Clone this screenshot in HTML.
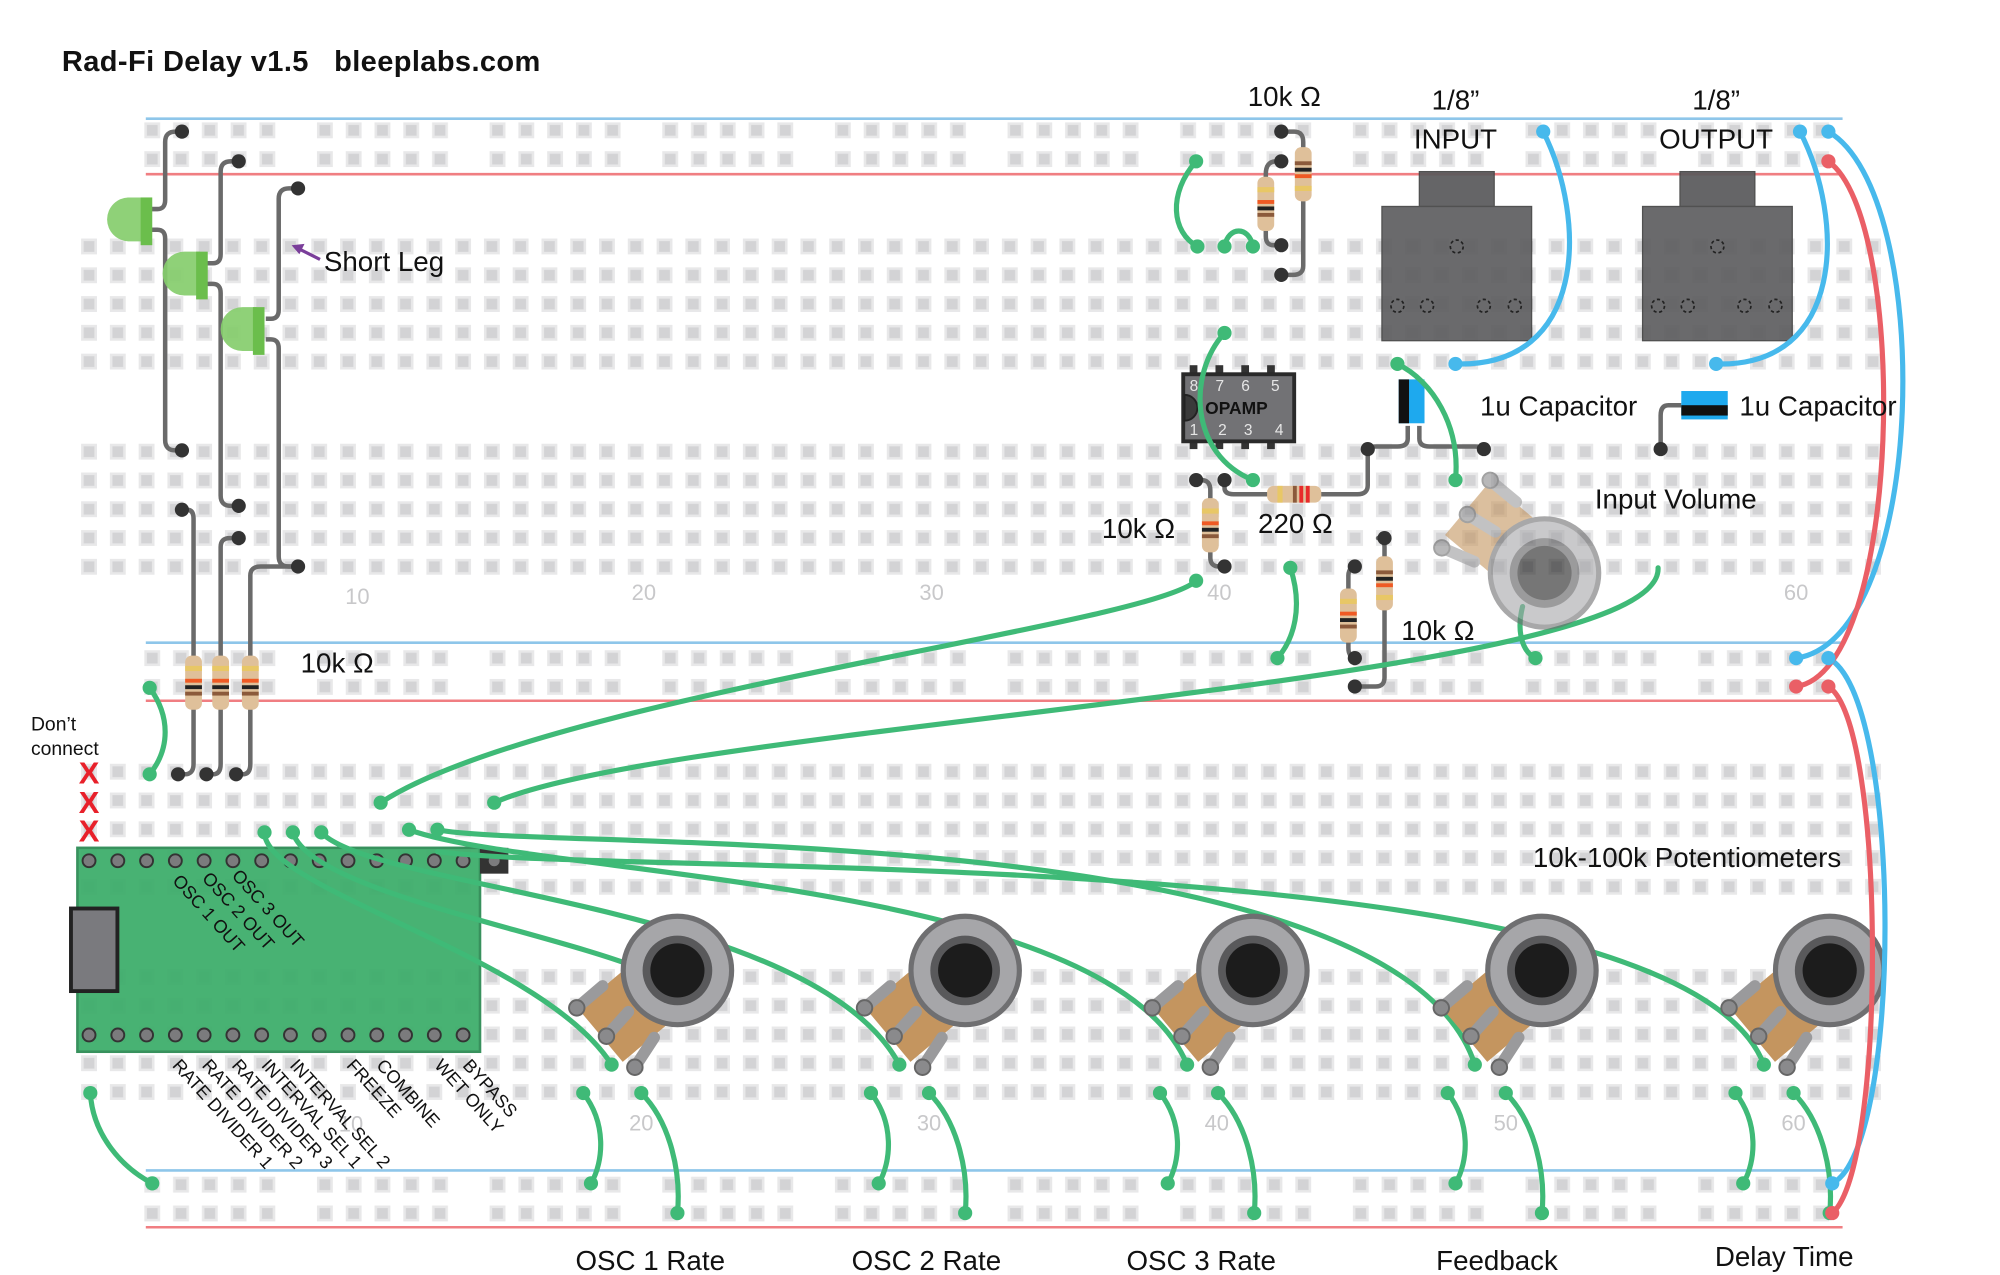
<!DOCTYPE html>
<html><head><meta charset="utf-8"><style>
html,body{margin:0;padding:0;background:#fff}
svg{display:block}
text{font-family:"Liberation Sans",sans-serif;fill:#111}
</style></head><body>
<svg width="2000" height="1275" viewBox="0 0 1550 988" preserveAspectRatio="none" xmlns="http://www.w3.org/2000/svg">
<defs>
<pattern id="g" x="0" y="0" width="22.3" height="22.3" patternUnits="userSpaceOnUse">
<rect x="5" y="5" width="12.3" height="12.3" fill="#e8e8e9"/><rect x="7" y="7" width="8.3" height="8.3" fill="#d3d3d5"/>
</pattern>
<pattern id="r" x="0" y="0" width="133.8" height="22.3" patternUnits="userSpaceOnUse">
<g fill="#e8e8e9"><rect x="5" y="5" width="12.3" height="12.3"/><rect x="27.3" y="5" width="12.3" height="12.3"/><rect x="49.6" y="5" width="12.3" height="12.3"/><rect x="71.9" y="5" width="12.3" height="12.3"/><rect x="94.2" y="5" width="12.3" height="12.3"/></g>
<g fill="#d3d3d5"><rect x="7" y="7" width="8.3" height="8.3"/><rect x="29.3" y="7" width="8.3" height="8.3"/><rect x="51.6" y="7" width="8.3" height="8.3"/><rect x="73.9" y="7" width="8.3" height="8.3"/><rect x="96.2" y="7" width="8.3" height="8.3"/></g>
</pattern>
<g id="pot">
<rect x="-78" y="-27" width="80" height="54" fill="#c4955f" transform="rotate(-40)"/>
<g stroke="#9a9a9c" stroke-width="9" stroke-linecap="round">
<line x1="-58" y1="12" x2="-78" y2="29"/><line x1="-38" y1="32" x2="-55" y2="51"/><line x1="-18" y1="52" x2="-33" y2="75"/></g>
<g fill="#8a8a8c" stroke="#666" stroke-width="1.5"><circle cx="-78" cy="29" r="6"/><circle cx="-55" cy="51" r="6"/><circle cx="-33" cy="75" r="6"/></g>
<circle r="42" fill="#a6a6a9" stroke="#6f6f71" stroke-width="4"/>
<circle r="27" fill="#59595b"/><circle r="21" fill="#1c1c1c"/>
</g>
</defs>

<text x="48" y="55" font-size="22.5" font-weight="bold" letter-spacing=".3">Rad-Fi Delay v1.5 &#160; bleeplabs.com</text>

<g stroke-width="2">
<line x1="113" y1="92" x2="1428" y2="92" stroke="#8ec6ea"/><line x1="113" y1="135" x2="1428" y2="135" stroke="#f07e82"/>
<line x1="113" y1="498" x2="1428" y2="498" stroke="#8ec6ea"/><line x1="113" y1="543" x2="1428" y2="543" stroke="#f07e82"/>
<line x1="113" y1="907" x2="1428" y2="907" stroke="#8ec6ea"/><line x1="113" y1="951" x2="1428" y2="951" stroke="#f07e82"/>
</g>
<rect transform="translate(106.85,89.85)" width="1315" height="44.6" fill="url(#r)"/>
<rect transform="translate(106.85,498.85)" width="1315" height="44.6" fill="url(#r)"/>
<rect transform="translate(106.85,906.85)" width="1315" height="44.6" fill="url(#r)"/>
<rect transform="translate(57.85,179.85)" width="1404.9" height="111.5" fill="url(#g)"/>
<rect transform="translate(57.85,338.85)" width="1404.9" height="111.5" fill="url(#g)"/>
<rect transform="translate(57.85,586.85)" width="1404.9" height="111.5" fill="url(#g)"/>
<rect transform="translate(57.85,745.85)" width="1404.9" height="111.5" fill="url(#g)"/>

<g font-size="17" text-anchor="middle">
<text x="277" y="468" style="fill:#c8c8ca">10</text><text x="499" y="465" style="fill:#c8c8ca">20</text><text x="722" y="465" style="fill:#c8c8ca">30</text><text x="945" y="465" style="fill:#c8c8ca">40</text><text x="1392" y="465" style="fill:#c8c8ca">60</text>
<text x="272" y="877" style="fill:#c8c8ca">10</text><text x="497" y="876" style="fill:#c8c8ca">20</text><text x="720" y="876" style="fill:#c8c8ca">30</text><text x="943" y="876" style="fill:#c8c8ca">40</text><text x="1167" y="876" style="fill:#c8c8ca">50</text><text x="1390" y="876" style="fill:#c8c8ca">60</text>
</g>

<g fill="none" stroke="#6a6a6a" stroke-width="3.5" stroke-linejoin="round">
<path d="M116,162 H122 Q128,162 128,155 V110 Q128,102 136,102 H141"/>
<path d="M116,178 H122 Q128,178 128,185 V341 Q128,349 136,349 H141"/>
<path d="M160,204 H165 Q171,204 171,197 V133 Q171,125 179,125 H185"/>
<path d="M160,220 H165 Q171,220 171,227 V384 Q171,392 179,392 H185"/>
<path d="M206,247 H210 Q216,247 216,240 V154 Q216,146 224,146 H231"/>
<path d="M206,263 H210 Q216,263 216,270 V431 Q216,439 224,439 H231"/>
<path d="M141,395 H145 Q150,395 150,402 V592 Q150,600 143,600 H138"/>
<path d="M185,417 H178 Q171,417 171,424 V592 Q171,600 165,600 H160"/>
<path d="M231,439 H202 Q194,439 194,446 V592 Q194,600 188,600 H183"/>
<path d="M993,102 H1003 Q1010,102 1010,110 V206 Q1010,213 1002,213 H993"/>
<path d="M993,190 H987 Q981,190 981,183 V135 Q981,125 989,125 H993"/>
<path d="M927,372 H931 Q938,372 938,380 V432 Q938,439 945,439 H949"/>
<path d="M949,372 V378 Q949,383 956,383 H1052 Q1060,383 1060,376 V348"/>
<path d="M1073,417 H1068 Q1073,417 1073,424 V525 Q1073,532 1066,532 H1050"/>
<path d="M1050,439 H1053 Q1045,439 1045,446 V502 Q1045,510 1052,510 H1050"/>
<path d="M1091,330 V340 Q1091,346 1083,346 H1066 Q1060,346 1060,350"/>
<path d="M1100,330 V340 Q1100,346 1108,346 H1143 Q1150,346 1150,350"/>
<path d="M1303,314 H1293 Q1287,314 1287,322 V348"/>
</g>
<g fill="#333">
<circle cx="141" cy="102" r="5.5"/><circle cx="141" cy="349" r="5.5"/><circle cx="185" cy="125" r="5.5"/><circle cx="185" cy="392" r="5.5"/><circle cx="231" cy="146" r="5.5"/><circle cx="231" cy="439" r="5.5"/>
<circle cx="141" cy="395" r="5.5"/><circle cx="185" cy="417" r="5.5"/>
<circle cx="138" cy="600" r="5.5"/><circle cx="160" cy="600" r="5.5"/><circle cx="183" cy="600" r="5.5"/>
<circle cx="993" cy="102" r="5.5"/><circle cx="993" cy="213" r="5.5"/><circle cx="993" cy="125" r="5.5"/><circle cx="993" cy="190" r="5.5"/>
<circle cx="927" cy="372" r="5.5"/><circle cx="949" cy="439" r="5.5"/><circle cx="949" cy="372" r="5.5"/><circle cx="1060" cy="348" r="5.5"/>
<circle cx="1073" cy="417" r="5.5"/><circle cx="1050" cy="532" r="5.5"/><circle cx="1050" cy="439" r="5.5"/><circle cx="1050" cy="510" r="5.5"/>
<circle cx="1150" cy="348" r="5.5"/><circle cx="1287" cy="348" r="5.5"/>
</g>

<g>
<path d="M112,153 H100 A17,17 0 0 0 100,187 H112 Z" fill="#86cd6c" opacity=".92"/><rect x="109" y="153" width="9" height="37" fill="#6bbe4c"/>
<path d="M155,195 H143 A17,17 0 0 0 143,229 H155 Z" fill="#86cd6c" opacity=".92"/><rect x="152" y="195" width="9" height="37" fill="#6bbe4c"/>
<path d="M199,238 H188 A17,17 0 0 0 188,272 H199 Z" fill="#86cd6c" opacity=".92"/><rect x="196" y="238" width="9" height="37" fill="#6bbe4c"/>
</g>
<text x="251" y="210" font-size="21.5">Short Leg</text>
<line x1="248" y1="201" x2="232" y2="193" stroke="#7a3e9a" stroke-width="2.5"/><path d="M226,190 L236,189 L232,197 Z" fill="#7a3e9a"/>

<g>
<g transform="translate(150,529)"><rect x="-6.5" y="-21" width="13" height="42" rx="5" fill="#dfc09a"/><rect x="-6.5" y="-13" width="13" height="4" fill="#e8c766"/><rect x="-6.5" y="-3" width="13" height="3" fill="#ef5a24"/><rect x="-6.5" y="2" width="13" height="3" fill="#222"/><rect x="-6.5" y="7" width="13" height="3" fill="#8b5a3b"/></g>
<g transform="translate(171,529)"><rect x="-6.5" y="-21" width="13" height="42" rx="5" fill="#dfc09a"/><rect x="-6.5" y="-13" width="13" height="4" fill="#e8c766"/><rect x="-6.5" y="-3" width="13" height="3" fill="#ef5a24"/><rect x="-6.5" y="2" width="13" height="3" fill="#222"/><rect x="-6.5" y="7" width="13" height="3" fill="#8b5a3b"/></g>
<g transform="translate(194,529)"><rect x="-6.5" y="-21" width="13" height="42" rx="5" fill="#dfc09a"/><rect x="-6.5" y="-13" width="13" height="4" fill="#e8c766"/><rect x="-6.5" y="-3" width="13" height="3" fill="#ef5a24"/><rect x="-6.5" y="2" width="13" height="3" fill="#222"/><rect x="-6.5" y="7" width="13" height="3" fill="#8b5a3b"/></g>
<g transform="translate(1010,135) rotate(180)"><rect x="-6.5" y="-21" width="13" height="42" rx="5" fill="#dfc09a"/><rect x="-6.5" y="-13" width="13" height="4" fill="#e8c766"/><rect x="-6.5" y="-3" width="13" height="3" fill="#ef5a24"/><rect x="-6.5" y="2" width="13" height="3" fill="#222"/><rect x="-6.5" y="7" width="13" height="3" fill="#8b5a3b"/></g>
<g transform="translate(981,158)"><rect x="-6.5" y="-21" width="13" height="42" rx="5" fill="#dfc09a"/><rect x="-6.5" y="-13" width="13" height="4" fill="#e8c766"/><rect x="-6.5" y="-3" width="13" height="3" fill="#ef5a24"/><rect x="-6.5" y="2" width="13" height="3" fill="#222"/><rect x="-6.5" y="7" width="13" height="3" fill="#8b5a3b"/></g>
<g transform="translate(938,407)"><rect x="-6.5" y="-21" width="13" height="42" rx="5" fill="#dfc09a"/><rect x="-6.5" y="-13" width="13" height="4" fill="#e8c766"/><rect x="-6.5" y="-3" width="13" height="3" fill="#ef5a24"/><rect x="-6.5" y="2" width="13" height="3" fill="#222"/><rect x="-6.5" y="7" width="13" height="3" fill="#8b5a3b"/></g>
<g transform="translate(1073,452) rotate(180)"><rect x="-6.5" y="-21" width="13" height="42" rx="5" fill="#dfc09a"/><rect x="-6.5" y="-13" width="13" height="4" fill="#e8c766"/><rect x="-6.5" y="-3" width="13" height="3" fill="#ef5a24"/><rect x="-6.5" y="2" width="13" height="3" fill="#222"/><rect x="-6.5" y="7" width="13" height="3" fill="#8b5a3b"/></g>
<g transform="translate(1045,477)"><rect x="-6.5" y="-21" width="13" height="42" rx="5" fill="#dfc09a"/><rect x="-6.5" y="-13" width="13" height="4" fill="#e8c766"/><rect x="-6.5" y="-3" width="13" height="3" fill="#ef5a24"/><rect x="-6.5" y="2" width="13" height="3" fill="#222"/><rect x="-6.5" y="7" width="13" height="3" fill="#8b5a3b"/></g>
<g transform="translate(1003,383) rotate(-90)"><rect x="-6.5" y="-21" width="13" height="42" rx="5" fill="#dfc09a"/><rect x="-6.5" y="-13" width="13" height="4" fill="#e8c766"/><rect x="-6.5" y="-1" width="13" height="3" fill="#8b5a3b"/><rect x="-6.5" y="4" width="13" height="3" fill="#e82a2a"/><rect x="-6.5" y="9" width="13" height="3" fill="#e82a2a"/></g>
</g>

<g>
<g fill="#333"><rect x="922" y="283" width="6" height="8"/><rect x="942" y="283" width="6" height="8"/><rect x="962" y="283" width="6" height="8"/><rect x="982" y="283" width="6" height="8"/><rect x="922" y="340" width="6" height="8"/><rect x="942" y="340" width="6" height="8"/><rect x="962" y="340" width="6" height="8"/><rect x="982" y="340" width="6" height="8"/></g>
<rect x="917" y="290" width="86" height="52" fill="#727275" stroke="#2a2a2a" stroke-width="3"/>
<path d="M918,306 A10,10 0 0 1 918,326 Z" fill="#3a3a3a" stroke="#222" stroke-width="1.5"/>
<g font-size="12"><text x="922" y="303" style="fill:#e6e6e6">8</text><text x="942" y="303" style="fill:#e6e6e6">7</text><text x="962" y="303" style="fill:#e6e6e6">6</text><text x="985" y="303" style="fill:#e6e6e6">5</text><text x="922" y="337" style="fill:#e6e6e6">1</text><text x="944" y="337" style="fill:#e6e6e6">2</text><text x="964" y="337" style="fill:#e6e6e6">3</text><text x="988" y="337" style="fill:#e6e6e6">4</text></g>
<text x="934" y="321" font-size="13.5" font-weight="bold">OPAMP</text>
</g>

<g opacity=".93">
<rect x="1100" y="133" width="58" height="27" fill="#5a5a5c" stroke="#444"/><rect x="1071" y="160" width="116" height="104" fill="#5f5f61" stroke="#444"/>
<rect x="1302" y="133" width="58" height="27" fill="#5a5a5c" stroke="#444"/><rect x="1273" y="160" width="116" height="104" fill="#5f5f61" stroke="#444"/>
</g>
<g fill="none" stroke="#222" stroke-width="1.3" stroke-dasharray="2.5 2">
<circle cx="1129" cy="191" r="5"/><circle cx="1083" cy="237" r="5"/><circle cx="1106" cy="237" r="5"/><circle cx="1150" cy="237" r="5"/><circle cx="1174" cy="237" r="5"/>
<circle cx="1331" cy="191" r="5"/><circle cx="1285" cy="237" r="5"/><circle cx="1308" cy="237" r="5"/><circle cx="1352" cy="237" r="5"/><circle cx="1376" cy="237" r="5"/>
</g>

<rect x="1084" y="294" width="20" height="34" fill="#1ea9ee"/><rect x="1084" y="294" width="8" height="34" fill="#111"/>
<rect x="1303" y="303" width="36" height="22" fill="#1ea9ee"/><rect x="1303" y="314" width="36" height="8" fill="#111"/>

<g>
<rect x="60" y="657" width="312" height="158" fill="#3fae6c" stroke="#2e8c55" stroke-width="2" opacity=".95"/>
<rect x="372" y="657" width="22" height="20" fill="#333"/>
<rect x="55" y="704" width="36" height="64" fill="#7a7a7e" stroke="#222" stroke-width="3"/>
<g fill="#7b7b7d" stroke="#333" stroke-width="1.5">
<circle cx="69" cy="667" r="5"/><circle cx="91.3" cy="667" r="5"/><circle cx="113.6" cy="667" r="5"/><circle cx="135.9" cy="667" r="5"/><circle cx="158.2" cy="667" r="5"/><circle cx="180.5" cy="667" r="5"/><circle cx="202.8" cy="667" r="5"/><circle cx="225.1" cy="667" r="5"/><circle cx="247.4" cy="667" r="5"/><circle cx="269.7" cy="667" r="5"/><circle cx="292" cy="667" r="5"/><circle cx="314.3" cy="667" r="5"/><circle cx="336.6" cy="667" r="5"/><circle cx="358.9" cy="667" r="5"/><circle cx="383" cy="667" r="5"/>
<circle cx="69" cy="802" r="5"/><circle cx="91.3" cy="802" r="5"/><circle cx="113.6" cy="802" r="5"/><circle cx="135.9" cy="802" r="5"/><circle cx="158.2" cy="802" r="5"/><circle cx="180.5" cy="802" r="5"/><circle cx="202.8" cy="802" r="5"/><circle cx="225.1" cy="802" r="5"/><circle cx="247.4" cy="802" r="5"/><circle cx="269.7" cy="802" r="5"/><circle cx="292" cy="802" r="5"/><circle cx="314.3" cy="802" r="5"/><circle cx="336.6" cy="802" r="5"/><circle cx="358.9" cy="802" r="5"/>
</g>
</g>
<g font-size="14">
<text transform="translate(133,683) rotate(48)">OSC 1 OUT</text>
<text transform="translate(156,681) rotate(48)">OSC 2 OUT</text>
<text transform="translate(179,679) rotate(48)">OSC 3 OUT</text>
<text transform="translate(133,826) rotate(48)">RATE DIVIDER 1</text>
<text transform="translate(156,826) rotate(48)">RATE DIVIDER 2</text>
<text transform="translate(179,826) rotate(48)">RATE DIVIDER 3</text>
<text transform="translate(202,826) rotate(48)">INTERVAL SEL 1</text>
<text transform="translate(224,826) rotate(48)">INTERVAL SEL 2</text>
<text transform="translate(268,826) rotate(48)">FREEZE</text>
<text transform="translate(291,826) rotate(48)">COMBINE</text>
<text transform="translate(336,826) rotate(48)">WET ONLY</text>
<text transform="translate(358,826) rotate(48)">BYPASS</text>
</g>
<text x="24" y="566" font-size="15">Don’t</text><text x="24" y="585" font-size="15">connect</text>
<g font-size="24" font-weight="bold" text-anchor="middle"><text x="69" y="607" style="fill:#e8202a">X</text><text x="69" y="630" style="fill:#e8202a">X</text><text x="69" y="652" style="fill:#e8202a">X</text></g>

<g fill="none" stroke="#3fba77" stroke-width="4" stroke-linecap="round">
<path d="M116,533 C132,555 132,580 116,600"/>
<path d="M70,847 C72,880 95,905 118,917"/>
<path d="M927,125 C905,150 908,180 928,191"/>
<path d="M949,191 C952,175 968,175 971,191"/>
<path d="M949,258 C920,290 922,352 971,372"/>
<path d="M927,450 C890,485 420,540 295,622"/>
<path d="M1000,440 C1010,470 1003,495 990,510"/>
<path d="M1285,440 C1290,530 520,560 383,622"/>
<path d="M1083,282 C1110,295 1132,330 1128,372"/>
<path d="M1180,470 C1175,490 1180,505 1190,510"/>
<path d="M205,645 C205,690 420,740 474,825"/>
<path d="M227,645 C240,690 420,720 500,752"/>
<path d="M249,645 C290,690 630,700 697,825"/>
<path d="M317,643 C420,680 860,680 920,825"/>
<path d="M339,643 C420,660 1080,630 1143,825"/>
<path d="M339,660 C500,680 1300,650 1367,825"/>
<path d="M452,847 C470,870 468,900 458,917"/><path d="M497,847 C520,870 528,910 525,940"/>
<path d="M675,847 C693,870 691,900 681,917"/><path d="M720,847 C743,870 751,910 748,940"/>
<path d="M899,847 C917,870 915,900 905,917"/><path d="M944,847 C967,870 975,910 972,940"/>
<path d="M1122,847 C1140,870 1138,900 1128,917"/><path d="M1167,847 C1190,870 1198,910 1195,940"/>
<path d="M1345,847 C1363,870 1361,900 1351,917"/><path d="M1390,847 C1413,870 1421,910 1418,940"/>
</g>
<g fill="#3fba77">
<circle cx="116" cy="533" r="5.5"/><circle cx="116" cy="600" r="5.5"/><circle cx="70" cy="847" r="5.5"/><circle cx="118" cy="917" r="5.5"/>
<circle cx="927" cy="125" r="5.5"/><circle cx="928" cy="191" r="5.5"/><circle cx="949" cy="191" r="5.5"/><circle cx="971" cy="191" r="5.5"/>
<circle cx="949" cy="258" r="5.5"/><circle cx="971" cy="372" r="5.5"/><circle cx="927" cy="450" r="5.5"/><circle cx="295" cy="622" r="5.5"/>
<circle cx="1000" cy="440" r="5.5"/><circle cx="990" cy="510" r="5.5"/><circle cx="383" cy="622" r="5.5"/>
<circle cx="1083" cy="282" r="5.5"/><circle cx="1128" cy="372" r="5.5"/><circle cx="1190" cy="510" r="5.5"/>
<circle cx="205" cy="645" r="5.5"/><circle cx="227" cy="645" r="5.5"/><circle cx="249" cy="645" r="5.5"/><circle cx="317" cy="643" r="5.5"/><circle cx="339" cy="643" r="5.5"/>
<circle cx="474" cy="825" r="5.5"/><circle cx="697" cy="825" r="5.5"/><circle cx="920" cy="825" r="5.5"/><circle cx="1143" cy="825" r="5.5"/><circle cx="1367" cy="825" r="5.5"/>
<circle cx="452" cy="847" r="5.5"/><circle cx="458" cy="917" r="5.5"/><circle cx="497" cy="847" r="5.5"/><circle cx="525" cy="940" r="5.5"/>
<circle cx="675" cy="847" r="5.5"/><circle cx="681" cy="917" r="5.5"/><circle cx="720" cy="847" r="5.5"/><circle cx="748" cy="940" r="5.5"/>
<circle cx="899" cy="847" r="5.5"/><circle cx="905" cy="917" r="5.5"/><circle cx="944" cy="847" r="5.5"/><circle cx="972" cy="940" r="5.5"/>
<circle cx="1122" cy="847" r="5.5"/><circle cx="1128" cy="917" r="5.5"/><circle cx="1167" cy="847" r="5.5"/><circle cx="1195" cy="940" r="5.5"/>
<circle cx="1345" cy="847" r="5.5"/><circle cx="1351" cy="917" r="5.5"/><circle cx="1390" cy="847" r="5.5"/><circle cx="1418" cy="940" r="5.5"/>
</g>

<use href="#pot" x="525" y="752"/>
<use href="#pot" x="748" y="752"/>
<use href="#pot" x="971" y="752"/>
<use href="#pot" x="1195" y="752"/>
<use href="#pot" x="1418" y="752"/>
<g opacity=".6" transform="translate(1197,444)">
<g transform="rotate(80)">
<rect x="-78" y="-27" width="80" height="54" fill="#c4955f" transform="rotate(-40)"/>
<g stroke="#9a9a9c" stroke-width="9" stroke-linecap="round"><line x1="-58" y1="12" x2="-78" y2="29"/><line x1="-38" y1="32" x2="-55" y2="51"/><line x1="-18" y1="52" x2="-33" y2="75"/></g>
<g fill="#8a8a8c" stroke="#666" stroke-width="1.5"><circle cx="-78" cy="29" r="6"/><circle cx="-55" cy="51" r="6"/><circle cx="-33" cy="75" r="6"/></g>
</g>
<circle r="42" fill="#a6a6a9" stroke="#6f6f71" stroke-width="4"/><circle r="27" fill="#59595b"/><circle r="21" fill="#1c1c1c"/>
</g>

<g fill="none" stroke-width="4" stroke-linecap="round">
<path d="M1196,102 C1230,170 1230,285 1128,282" stroke="#47b9ec"/>
<path d="M1395,102 C1430,170 1430,285 1330,282" stroke="#47b9ec"/>
<path d="M1417,102 C1500,150 1495,495 1392,510" stroke="#47b9ec"/>
<path d="M1417,510 C1475,540 1475,890 1420,917" stroke="#47b9ec"/>
<path d="M1417,125 C1480,170 1475,520 1392,532" stroke="#ea5f66"/>
<path d="M1417,532 C1462,560 1462,905 1420,940" stroke="#ea5f66"/>
</g>
<g>
<circle cx="1196" cy="102" r="5.5" fill="#47b9ec"/><circle cx="1128" cy="282" r="5.5" fill="#47b9ec"/><circle cx="1395" cy="102" r="5.5" fill="#47b9ec"/><circle cx="1330" cy="282" r="5.5" fill="#47b9ec"/>
<circle cx="1417" cy="102" r="5.5" fill="#47b9ec"/><circle cx="1392" cy="510" r="5.5" fill="#47b9ec"/><circle cx="1417" cy="510" r="5.5" fill="#47b9ec"/><circle cx="1420" cy="917" r="5.5" fill="#47b9ec"/>
<circle cx="1417" cy="125" r="5.5" fill="#ea5f66"/><circle cx="1392" cy="532" r="5.5" fill="#ea5f66"/><circle cx="1417" cy="532" r="5.5" fill="#ea5f66"/><circle cx="1420" cy="940" r="5.5" fill="#ea5f66"/>
</g>

<g font-size="21.5">
<text x="233" y="521">10k Ω</text>
<text x="967" y="82">10k Ω</text>
<text x="975" y="413">220 Ω</text>
<text x="854" y="417">10k Ω</text>
<text x="1086" y="496">10k Ω</text>
<text x="1128" y="85" text-anchor="middle">1/8”</text><text x="1128" y="115" text-anchor="middle">INPUT</text>
<text x="1330" y="85" text-anchor="middle">1/8”</text><text x="1330" y="115" text-anchor="middle">OUTPUT</text>
<text x="1147" y="322">1u Capacitor</text><text x="1348" y="322">1u Capacitor</text>
<text x="1236" y="394">Input Volume</text>
<text x="1188" y="672">10k-100k Potentiometers</text>
<text x="446" y="984">OSC 1 Rate</text><text x="660" y="984">OSC 2 Rate</text><text x="873" y="984">OSC 3 Rate</text><text x="1113" y="984">Feedback</text><text x="1329" y="981">Delay Time</text>
</g>
</svg>
</body></html>
